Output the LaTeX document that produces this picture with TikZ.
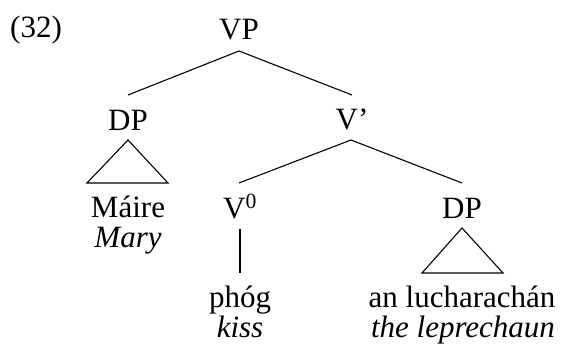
\documentclass[tikz,border=0pt]{standalone}
\usepackage{fontspec}
\setmainfont{Liberation Serif}
\begin{document}
\begin{tikzpicture}[x=1pt,y=-1pt,
  lbl/.style={anchor=base,inner sep=0pt,font=\fontsize{31}{36}\selectfont},
  edge/.style={line width=1.1pt}]
\useasboundingbox (0,0) rectangle (561,350);
\node[lbl] (ex) at (36,38) {(32)};
\node[lbl] (vp) at (239,40) {VP};
\node[lbl] (dp1) at (128,130) {DP};
\node[lbl] (vbar) at (352,129) {V'};
\node[lbl] (v0) at (240,218) {V\textsuperscript{0}};
\node[lbl] (dp2) at (462,218) {DP};
\node[lbl] (maire) at (128,217) {Máire};
\node[lbl] (mary) at (128,247) {\itshape Mary};
\node[lbl] (phog) at (240,307) {phóg};
\node[lbl] (kiss) at (240,337) {\itshape kiss};
\node[lbl] (luch) at (462,307) {an lucharachán};
\node[lbl] (lep) at (463,337) {\itshape the leprechaun};
\coordinate (vpb) at (239,51);
\coordinate (dp1t) at (128,95);
\coordinate (vbart) at (352,95);
\coordinate (vbarb) at (351,140);
\coordinate (v0t) at (239,183);
\coordinate (dp2t) at (462,183);
\coordinate (dp1a) at (128,140);
\coordinate (dp1l) at (87,183);
\coordinate (dp1r) at (168,183);
\coordinate (v0b) at (240,229);
\coordinate (phogt) at (240,273);
\coordinate (dp2a) at (462,228);
\coordinate (dp2l) at (422,273);
\coordinate (dp2r) at (503,273);
\draw[edge] (dp1t) -- (vpb) -- (vbart);
\draw[edge] (v0t) -- (vbarb) -- (dp2t);
\draw[edge] (dp1a) -- (dp1l) -- (dp1r) -- cycle;
\draw[edge] (v0b) -- (phogt);
\draw[edge] (dp2a) -- (dp2l) -- (dp2r) -- cycle;
\end{tikzpicture}
\end{document}
